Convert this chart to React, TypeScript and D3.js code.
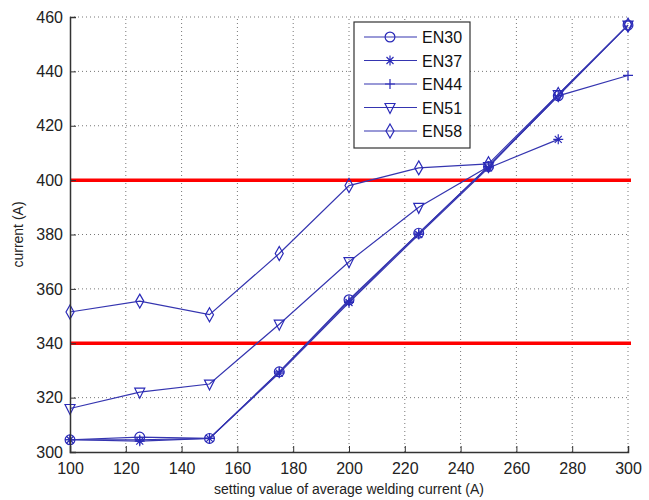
import { useEffect, useRef } from 'react';
import * as d3 from 'd3';

// setting values (x)
const settings = [100, 125, 150, 175, 200, 225, 250, 275, 300];

const en30 = [304.5, 305.5, 305, 329.5, 356, 380.5, 405, 431, 457];
const en37 = [304.5, 304, 305, 329, 355, 380, 404.5, 415];
const en44 = [304.5, 304.5, 305, 329.5, 355.5, 380.5, 405, 431, 438.5];
const en51 = [316, 322, 325, 347, 370, 390, 405, 431.5, 457];
const en58 = [351.5, 355.5, 350.5, 373, 398, 404.5, 406, 431.5, 457];

const seriesNames = ['EN30', 'EN37', 'EN44', 'EN51', 'EN58'];
const seriesValues = [en30, en37, en44, en51, en58];
const markers = ['circle', 'star', 'plus', 'triangle', 'diamond'];

const limits = [340, 400];

const xTicks = [100, 120, 140, 160, 180, 200, 220, 240, 260, 280, 300];
const yTicks = [300, 320, 340, 360, 380, 400, 420, 440, 460];

const markerPath = (kind: string) => {
    const s = 5;
    if (kind === 'circle') return d3.symbol(d3.symbolCircle, 75)() as string;
    if (kind === 'triangle') return `M${-s},${-s + 1}L${s},${-s + 1}L0,${s + 1}Z`;
    if (kind === 'diamond') return `M0,${-s - 2}L${s - 1},0L0,${s + 2}L${-s + 1},0Z`;
    if (kind === 'plus') return `M${-s},0L${s},0M0,${-s}L0,${s}`;
    // asterisk
    const a = s * 0.7;
    return `M${-s},0L${s},0M0,${-s}L0,${s}M${-a},${-a}L${a},${a}M${-a},${a}L${a},${-a}`;
};

const App = () => {
    const svgRef = useRef<SVGSVGElement>(null);

    useEffect(() => {
        const width = 649;
        const height = 500;
        const margin = { top: 17, right: 21, bottom: 48, left: 70 };

        const svg = d3.select(svgRef.current);
        svg.selectAll('*').remove();
        svg.attr('width', width).attr('height', height);

        svg.append('rect').attr('width', width).attr('height', height).attr('fill', '#fff');

        const x = d3.scaleLinear().domain([100, 300]).range([margin.left, width - margin.right]);
        const y = d3.scaleLinear().domain([300, 460]).range([height - margin.bottom, margin.top]);

        const font = 'Arial, "Liberation Sans", sans-serif';

        // grid
        const grid = svg.append('g').attr('stroke', '#777').attr('stroke-dasharray', '1,3').attr('stroke-width', 1);
        xTicks.slice(1).forEach((t) => {
            grid.append('line')
                .attr('x1', x(t)).attr('x2', x(t))
                .attr('y1', y(300)).attr('y2', y(460));
        });
        yTicks.slice(1).forEach((t) => {
            grid.append('line')
                .attr('x1', x(100)).attr('x2', x(300))
                .attr('y1', y(t)).attr('y2', y(t));
        });

        // red limit lines
        limits.forEach((v) => {
            svg.append('line')
                .attr('x1', x(100)).attr('x2', x(300) + 3)
                .attr('y1', y(v)).attr('y2', y(v))
                .attr('stroke', '#ff0000').attr('stroke-width', 3.5);
        });

        // series
        const line = d3.line<number>()
            .x((_, i) => x(settings[i]))
            .y((d) => y(d));

        seriesValues.forEach((vals, si) => {
            const g = svg.append('g');
            g.append('path')
                .attr('d', line(vals))
                .attr('fill', 'none')
                .attr('stroke', '#3535b0')
                .attr('stroke-width', 1.2);
            const mp = markerPath(markers[si]);
            vals.forEach((v, i) => {
                g.append('path')
                    .attr('d', mp)
                    .attr('transform', `translate(${x(settings[i])},${y(v)})`)
                    .attr('fill', 'none')
                    .attr('stroke', '#2a2ab8')
                    .attr('stroke-width', 1.2);
            });
        });

        // axes
        const xAxis = d3.axisBottom(x).tickValues(xTicks).tickSize(-6).tickPadding(8).tickFormat(d3.format('d'));
        const yAxis = d3.axisLeft(y).tickValues(yTicks).tickSize(-6).tickPadding(7).tickFormat(d3.format('d'));

        const gx = svg.append('g')
            .attr('transform', `translate(0,${y(300)})`)
            .call(xAxis);
        const gy = svg.append('g')
            .attr('transform', `translate(${x(100)},0)`)
            .call(yAxis);

        [gx, gy].forEach((g) => {
            g.select('.domain').attr('stroke', '#333').attr('stroke-width', 1.5);
            g.selectAll('.tick line').attr('stroke', '#333');
            g.selectAll('.tick text')
                .attr('fill', '#222')
                .style('font-family', font)
                .style('font-size', '16px');
        });
        gx.selectAll('.tick text').attr('dy', '0.85em');

        svg.append('text')
            .attr('x', (x(100) + x(300)) / 2)
            .attr('y', 494)
            .attr('text-anchor', 'middle')
            .attr('fill', '#222')
            .style('font-family', font)
            .style('font-size', '14px')
            .text('setting value of average welding current (A)');

        svg.append('text')
            .attr('transform', `translate(23,${(y(300) + y(460)) / 2}) rotate(-90)`)
            .attr('text-anchor', 'middle')
            .attr('fill', '#222')
            .style('font-family', font)
            .style('font-size', '14px')
            .text('current (A)');

        // legend
        const lg = svg.append('g').attr('transform', 'translate(354,22)');
        lg.append('rect')
            .attr('width', 116).attr('height', 126)
            .attr('fill', '#fff')
            .attr('stroke', '#333').attr('stroke-width', 1.2);
        seriesNames.forEach((name, i) => {
            const cy = 15 + i * 23.5;
            lg.append('line')
                .attr('x1', 10).attr('x2', 63)
                .attr('y1', cy).attr('y2', cy)
                .attr('stroke', '#3535b0').attr('stroke-width', 1.2);
            lg.append('path')
                .attr('d', markerPath(markers[i]))
                .attr('transform', `translate(36,${cy})`)
                .attr('fill', 'none')
                .attr('stroke', '#2a2ab8')
                .attr('stroke-width', 1.2);
            lg.append('text')
                .attr('x', 68).attr('y', cy + 6)
                .attr('fill', '#111')
                .style('font-family', font)
                .style('font-size', '16px')
                .text(name);
        });
    }, []);

    return (
        <div style={{ position: 'absolute', left: 0, top: 0 }}>
            <svg ref={svgRef} style={{ display: 'block' }}></svg>
        </div>
    );
};

export default App;
